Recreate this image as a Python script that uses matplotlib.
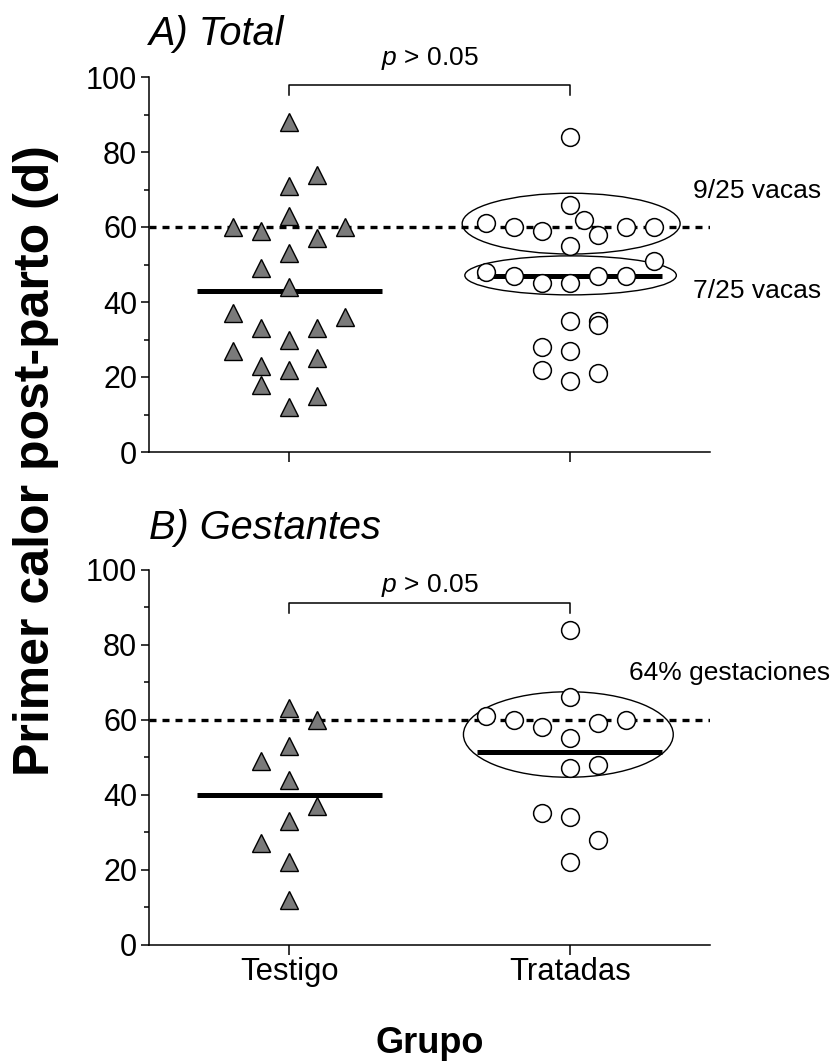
import matplotlib
matplotlib.use("Agg")
import matplotlib.pyplot as plt
from matplotlib.patches import Ellipse
from matplotlib.ticker import MultipleLocator
import numpy as np

plt.rcParams['font.family'] = ['Liberation Sans', 'DejaVu Sans']
plt.rcParams['mathtext.fontset'] = 'custom'
plt.rcParams['mathtext.it'] = 'Liberation Sans:italic'
plt.rcParams['mathtext.rm'] = 'Liberation Sans'

# ---------------- data ----------------
groups = ["Testigo", "Tratadas"]
yticks = [0, 20, 40, 60, 80, 100]
threshold = 60

total_testigo = [88, 74, 71, 63, 60, 60, 59, 57, 53, 49, 44, 37, 36, 33, 33, 30, 27, 25, 23, 22, 18, 15, 12]
total_tratadas = [84, 66, 62, 61, 60, 60, 60, 59, 58, 55, 51, 48, 47, 47, 47, 45, 45, 35, 35, 34, 28, 27, 22, 21, 19]
gest_testigo = [63, 60, 53, 49, 44, 37, 33, 27, 22, 12]
gest_tratadas = [84, 66, 61, 60, 60, 59, 58, 55, 48, 47, 35, 34, 28, 22]

panel_titles = ["A) Total", "B) Gestantes"]
p_label = "$p$ > 0.05"
notes_total = ["9/25 vacas", "7/25 vacas"]
notes_gest = ["64% gestaciones"]
x_label = "Grupo"
y_label = "Primer calor post-parto (d)"

# ---------------- layout (swarm slots, not data) ----------------
slot_step = 0.1
slots_total_testigo = [0, 1, 0, 0, -2, 2, -1, 1, 0, -1, 0, -2, 2, -1, 1, 0, -2, 1, -1, 0, -1, 1, 0]
slots_total_tratadas = [0, 0, 0.5, -3, -2, 2, 3, -1, 1, 0, 3, -3, -2, 1, 2, -1, 0, 0, 1, 1, -1, 0, -1, 1, 0]
slots_gest_testigo = [0, 1, 0, -1, 0, 1, 0, -1, 0, 0]
slots_gest_tratadas = [0, 0, -3, -2, 2, 1, -1, 0, 1, 0, -1, 0, 1, 0]

fig = plt.figure(figsize=(8.37, 10.64), dpi=100)
W, H = 837.0, 1064.0
ax1 = fig.add_axes([149 / W, 1 - 452 / H, 561 / W, 375 / H])
ax2 = fig.add_axes([149 / W, 1 - 944.5 / H, 561 / W, 375 / H])

tri_kw = dict(marker='^', linestyle='none', ms=12.6, mfc='#7a7a7a', mec='black', mew=1.0, zorder=4)
cir_kw = dict(marker='o', linestyle='none', ms=12.8, mfc='white', mec='black', mew=1.1, zorder=4)


def draw_panel(ax, testigo, tratadas, s_t, s_r, title, title_y, bracket_y, p_y, show_labels):
    ax.set_xlim(0.5, 2.5)
    ax.set_ylim(0, 100)
    for sp in ['top', 'right']:
        ax.spines[sp].set_visible(False)
    for sp in ['left', 'bottom']:
        ax.spines[sp].set_linewidth(1.1)
    ax.set_yticks(yticks)
    ax.yaxis.set_minor_locator(MultipleLocator(10))
    ax.set_xticks([1, 2])
    ax.set_xticklabels(groups if show_labels else ['', ''])
    ax.tick_params(axis='y', which='major', length=6, width=1.1, labelsize=22, pad=2.5)
    ax.tick_params(axis='y', which='minor', length=3.5, width=1.1)
    ax.tick_params(axis='x', which='major', length=7, width=1.1, labelsize=22.3, pad=2)

    ax.axhline(threshold, color='black', lw=2.4, dashes=(2.1, 1.8), zorder=1.5)

    xt = 1 + slot_step * np.array(s_t)
    xr = 2 + slot_step * np.array(s_r)
    ax.plot(xt, testigo, **tri_kw)
    ax.plot(xr, tratadas, **cir_kw)

    for xc, vals in ((1, testigo), (2, tratadas)):
        m = np.mean(vals)
        ax.hlines(m, xc - 0.33, xc + 0.33, color='black', lw=3.6, zorder=2.5)

    b0, b1 = bracket_y
    ax.plot([1, 1, 2, 2], [b0, b1, b1, b0], color='black', lw=1.1, clip_on=False, zorder=3)
    ax.text(1.5, p_y, p_label, ha='center', va='baseline', fontsize=19)
    ax.text(0.5, title_y, title, ha='left', va='baseline', fontsize=28.6, fontstyle='italic')


draw_panel(ax1, total_testigo, total_tratadas, slots_total_testigo, slots_total_tratadas,
           panel_titles[0], 108.5, (95.2, 97.9), 103.2, False)
draw_panel(ax2, gest_testigo, gest_tratadas, slots_gest_testigo, slots_gest_tratadas,
           panel_titles[1], 108.1, (88.3, 91.1), 94.1, True)

# group ellipses
ell_kw = dict(fill=False, edgecolor='black', lw=1.0, zorder=3)
ax1.add_patch(Ellipse((2.005, 60.9), 0.777, 16.2, **ell_kw))
ax1.add_patch(Ellipse((2.003, 47.1), 0.754, 10.4, **ell_kw))
ax2.add_patch(Ellipse((1.995, 56.0), 0.748, 22.8, **ell_kw))

ax1.text(2.44, 67.7, notes_total[0], ha='left', va='baseline', fontsize=19)
ax1.text(2.44, 41.1, notes_total[1], ha='left', va='baseline', fontsize=19)
ax2.text(2.21, 70.5, notes_gest[0], ha='left', va='baseline', fontsize=19)

fig.text(36 / W, 1 - 461 / H, y_label, rotation=90, ha='center', va='center',
         fontsize=36, fontweight='bold')
fig.text(429.5 / W, 1 - 1053 / H, x_label, ha='center', va='baseline',
         fontsize=26, fontweight='bold')

fig.savefig('out.png', dpi=100)
